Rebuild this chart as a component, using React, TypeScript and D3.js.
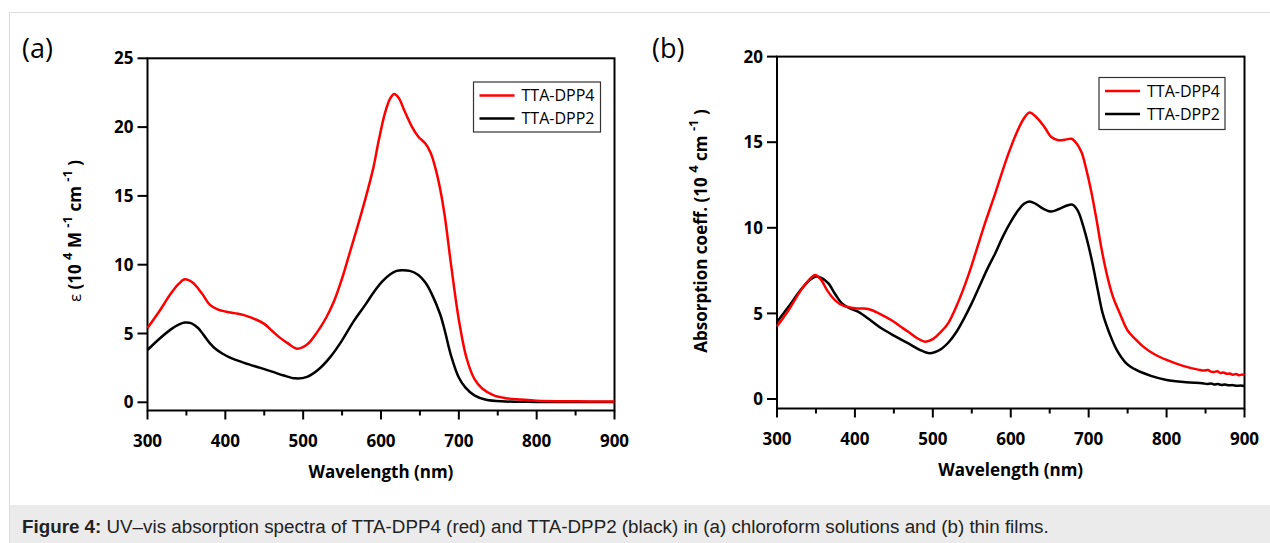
import { useRef, useEffect } from 'react';
import * as d3 from 'd3';

// (a) chloroform solutions, epsilon in 10^4 M-1 cm-1
const WL_A_DPP4 = [300, 315, 330, 340, 348, 358, 370, 380, 390, 400, 412, 425, 440, 450, 460, 470, 480, 492, 505, 518, 530, 540, 550, 560, 570, 580, 590, 597, 605, 612, 617, 623, 630, 640, 648, 657, 664, 670, 676, 682, 690, 700, 710, 720, 730, 745, 760, 780, 800, 850, 900];
const EPS_A_DPP4 = [5.4, 6.6, 7.9, 8.6, 8.94, 8.7, 7.9, 7.1, 6.75, 6.6, 6.48, 6.32, 6.0, 5.7, 5.2, 4.7, 4.3, 3.9, 4.2, 5.1, 6.2, 7.4, 9.0, 10.9, 12.8, 14.8, 17.0, 19.0, 21.0, 22.1, 22.4, 22.1, 21.2, 20.0, 19.3, 18.8, 18.1, 17.0, 15.5, 13.5, 10.0, 6.0, 3.2, 1.7, 1.0, 0.5, 0.3, 0.2, 0.12, 0.07, 0.05];
const WL_A_DPP2 = [300, 315, 330, 340, 348, 356, 365, 372, 380, 388, 396, 404, 425, 445, 460, 475, 490, 505, 520, 535, 550, 565, 580, 592, 602, 612, 620, 627, 637, 648, 657, 665, 676, 682, 690, 700, 708, 720, 735, 760, 800, 900];
const EPS_A_DPP2 = [3.8, 4.6, 5.3, 5.65, 5.8, 5.75, 5.4, 4.9, 4.3, 3.85, 3.55, 3.3, 2.85, 2.5, 2.23, 1.95, 1.74, 1.85, 2.4, 3.3, 4.5, 5.9, 7.1, 8.1, 8.8, 9.3, 9.55, 9.6, 9.55, 9.25, 8.7, 7.9, 6.4, 5.2, 3.4, 1.8, 1.1, 0.5, 0.18, 0.06, 0.03, 0.02];

// (b) thin films, absorption coeff. in 10^4 cm-1
const WL_B_DPP4 = [300, 315, 330, 342, 349, 356, 365, 375, 385, 400, 412, 421, 435, 447, 458, 468, 480, 490, 500, 510, 520, 532, 545, 556, 567, 580, 596, 608, 617, 624, 632, 643, 652, 661, 670, 678, 685, 691, 697, 703, 710, 716, 723, 731, 740, 750, 760, 770, 785, 800, 820, 842, 848, 853, 857, 861, 865, 869, 873, 877, 881, 885, 889, 893, 897, 900];
const ABS_B_DPP4 = [4.25, 5.2, 6.3, 7.0, 7.25, 7.0, 6.3, 5.75, 5.45, 5.3, 5.28, 5.2, 4.9, 4.6, 4.25, 3.94, 3.55, 3.35, 3.5, 3.9, 4.45, 5.6, 7.15, 8.7, 10.27, 12.0, 14.2, 15.6, 16.4, 16.74, 16.5, 15.9, 15.3, 15.12, 15.15, 15.2, 14.9, 14.4, 13.4, 12.2, 10.5, 8.9, 7.35, 6.0, 5.0, 4.0, 3.5, 3.06, 2.6, 2.28, 1.95, 1.7, 1.66, 1.69, 1.6, 1.58, 1.62, 1.52, 1.55, 1.47, 1.49, 1.42, 1.46, 1.39, 1.43, 1.4];
const WL_B_DPP2 = [300, 315, 330, 342, 350, 358, 366, 375, 383, 393, 404, 420, 434, 450, 468, 482, 496, 510, 520, 530, 540, 550, 560, 570, 580, 590, 600, 610, 617, 624, 632, 642, 652, 662, 672, 679, 686, 693, 699, 705, 712, 718, 727, 736, 748, 761, 780, 800, 825, 846, 852, 857, 861, 866, 870, 875, 880, 885, 890, 895, 900];
const ABS_B_DPP2 = [4.5, 5.4, 6.35, 6.95, 7.15, 7.05, 6.75, 6.1, 5.6, 5.3, 5.1, 4.6, 4.13, 3.7, 3.26, 2.9, 2.67, 2.9, 3.3, 3.9, 4.7, 5.6, 6.6, 7.6, 8.5, 9.5, 10.35, 11.05, 11.4, 11.54, 11.4, 11.1, 10.95, 11.1, 11.3, 11.35, 11.0, 10.1, 9.1, 7.9, 6.3, 5.0, 3.8, 2.87, 2.1, 1.7, 1.35, 1.11, 0.98, 0.92, 0.88, 0.91, 0.85, 0.87, 0.82, 0.84, 0.8, 0.81, 0.77, 0.79, 0.76];

const X_TICKS = [300, 400, 500, 600, 700, 800, 900];
const X_MINOR = [350, 450, 550, 650, 750, 850];
const Y_TICKS_A = [0, 5, 10, 15, 20, 25];
const Y_TICKS_B = [0, 5, 10, 15, 20];
const SERIES = ['TTA-DPP4', 'TTA-DPP2'];
const COLORS = ['#ff0000', '#000000'];

const FONT = '"Open Sans", sans-serif';

export default function App() {
  const svgRef = useRef(null);

  useEffect(() => {
    const svg = d3.select(svgRef.current);
    svg.selectAll('*').remove();

    // page frame + caption band
    svg.append('path')
      .attr('d', 'M9.5,543 V12.5 H1270')
      .attr('fill', 'none')
      .attr('stroke', '#dcdcdc');
    svg.append('rect')
      .attr('x', 10).attr('y', 505)
      .attr('width', 1260).attr('height', 38)
      .attr('fill', '#ebebeb');
    const cap = svg.append('text')
      .attr('x', 22).attr('y', 533)
      .style('font-family', '"Liberation Sans", Arial, sans-serif')
      .style('font-size', '18.8px')
      .attr('fill', '#222');
    cap.append('tspan').attr('font-weight', 'bold').text('Figure 4:');
    cap.append('tspan').text(' UV\u2013vis absorption spectra of TTA-DPP4 (red) and TTA-DPP2 (black) in (a) chloroform solutions and (b) thin films.');

    const panels = [
      {
        tag: '(a)', tagX: 22,
        left: 147.5, right: 614.5, zeroY: 402.3, axisY: 410.5, step: 68.8,
        yMax: 25, yTicks: Y_TICKS_A,
        data: [[WL_A_DPP4, EPS_A_DPP4], [WL_A_DPP2, EPS_A_DPP2]],
        legend: { x: 473.5, y: 82, w: 127, h: 50 },
        labelX: 81, kind: 'a',
      },
      {
        tag: '(b)', tagX: 652,
        left: 777, right: 1244.5, zeroY: 399, axisY: 408.5, step: 85.6,
        yMax: 20, yTicks: Y_TICKS_B,
        data: [[WL_B_DPP4, ABS_B_DPP4], [WL_B_DPP2, ABS_B_DPP2]],
        legend: { x: 1099, y: 77.5, w: 126, h: 52 },
        labelX: 707, kind: 'b',
      },
    ];

    panels.forEach((p) => {
      const x = d3.scaleLinear().domain([300, 900]).range([p.left, p.right]);
      const y = d3.scaleLinear().domain([0, 5]).range([p.zeroY, p.zeroY - p.step]);
      const top = y(p.yMax);
      const g = svg.append('g');

      // box
      g.append('rect')
        .attr('x', p.left).attr('y', top)
        .attr('width', p.right - p.left).attr('height', p.axisY - top)
        .attr('fill', 'none').attr('stroke', '#000').attr('stroke-width', 2);

      // x ticks
      X_TICKS.forEach((t) => {
        g.append('line')
          .attr('x1', x(t)).attr('x2', x(t))
          .attr('y1', p.axisY).attr('y2', p.axisY + 9)
          .attr('stroke', '#000').attr('stroke-width', 2);
        g.append('text')
          .attr('x', x(t)).attr('y', p.axisY + 36)
          .attr('text-anchor', 'middle')
          .style('font-family', FONT).style('font-size', '17px').style('font-weight', 700)
          .text(t);
      });
      X_MINOR.forEach((t) => {
        g.append('line')
          .attr('x1', x(t)).attr('x2', x(t))
          .attr('y1', p.axisY).attr('y2', p.axisY + 5)
          .attr('stroke', '#000').attr('stroke-width', 2);
      });
      g.append('text')
        .attr('x', (p.left + p.right) / 2).attr('y', p.axisY + 67)
        .attr('text-anchor', 'middle')
        .style('font-family', FONT).style('font-size', '17px').style('font-weight', 700)
        .text('Wavelength (nm)');

      // y ticks
      p.yTicks.forEach((t) => {
        g.append('line')
          .attr('x1', p.left - 10).attr('x2', p.left)
          .attr('y1', y(t)).attr('y2', y(t))
          .attr('stroke', '#000').attr('stroke-width', 2);
        g.append('text')
          .attr('x', p.left - 14).attr('y', y(t))
          .attr('dy', '0.36em')
          .attr('text-anchor', 'end')
          .style('font-family', FONT).style('font-size', '17px').style('font-weight', 700)
          .text(t);
      });

      // y label
      const yl = g.append('text')
        .attr('transform', `translate(${p.labelX},231) rotate(-90)`)
        .attr('text-anchor', 'middle')
        .style('font-family', FONT).style('font-size', '17px').style('font-weight', 700);
      const sup = (s) => {
        yl.append('tspan').attr('dy', -9).style('font-size', '13px').text(s);
        yl.append('tspan').attr('dy', 9).text(' ');
      };
      if (p.kind === 'a') {
        yl.append('tspan').style('font-weight', 400).text('\u03b5 ');
        yl.append('tspan').text('(10 ');
        sup('4');
        yl.append('tspan').text('M ');
        sup('-1');
        yl.append('tspan').text('cm ');
        sup('-1');
        yl.append('tspan').text(')');
      } else {
        yl.append('tspan').text('Absorption coeff. (10 ');
        sup('4');
        yl.append('tspan').text('cm ');
        sup('-1');
        yl.append('tspan').text(')');
      }

      // panel tag
      g.append('text')
        .attr('x', p.tagX).attr('y', 58)
        .style('font-family', FONT).style('font-size', '27px')
        .text(p.tag);

      // curves
      const line = d3.line()
        .x((d) => x(d[0]))
        .y((d) => y(d[1]))
        .curve(d3.curveCatmullRom.alpha(0.5));
      [1, 0].forEach((i) => {
        const [wl, v] = p.data[i];
        g.append('path')
          .datum(wl.map((w, k) => [w, v[k]]))
          .attr('d', line)
          .attr('fill', 'none')
          .attr('stroke', COLORS[i])
          .attr('stroke-width', 2.5)
          .attr('stroke-linejoin', 'round');
      });

      // legend
      const L = p.legend;
      g.append('rect')
        .attr('x', L.x).attr('y', L.y).attr('width', L.w).attr('height', L.h)
        .attr('fill', '#fff').attr('stroke', '#333').attr('stroke-width', 1.2);
      SERIES.forEach((s, i) => {
        const ly = L.y + 13.5 + i * 23;
        g.append('line')
          .attr('x1', L.x + 6).attr('x2', L.x + 41)
          .attr('y1', ly).attr('y2', ly)
          .attr('stroke', COLORS[i]).attr('stroke-width', 2.5);
        g.append('text')
          .attr('x', L.x + 48).attr('y', ly)
          .attr('dy', '0.36em')
          .style('font-family', FONT).style('font-size', '16px')
          .text(s);
      });
    });
  }, []);

  return (
    <svg
      ref={svgRef}
      width={1270}
      height={543}
      style={{ position: 'absolute', left: 0, top: 0, background: '#fff' }}
    />
  );
}
